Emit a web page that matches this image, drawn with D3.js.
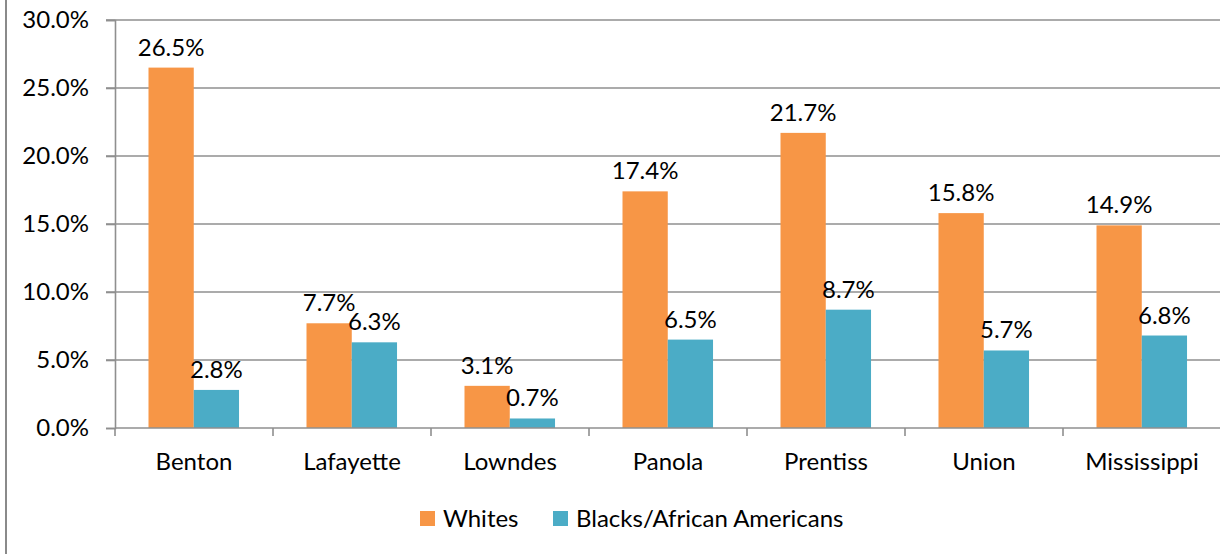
<!DOCTYPE html>
<html><head><meta charset="utf-8">
<script src="https://cdn.jsdelivr.net/npm/d3@7"></script>
<style>body{margin:0;background:#fff}svg{display:block}text{font-family:Lato,"Open Sans",sans-serif;fill:#000}</style>
</head><body><svg id="c" width="1220" height="554"></svg>
<script>
const categories = ["Benton","Lafayette","Lowndes","Panola","Prentiss","Union","Mississippi"];
const whites = [26.5, 7.7, 3.1, 17.4, 21.7, 15.8, 14.9];
const blacks = [2.8, 6.3, 0.7, 6.5, 8.7, 5.7, 6.8];
const seriesNames = ["Whites","Blacks/African Americans"];
const colors = ["#F79646","#4BACC6"];
const yTicks = [0,5,10,15,20,25,30];

(function(){
const svg = d3.select("#c");
const fs = 24;
const pLeft = 115, pRight = 1221, pTop = 20, pBottom = 428;
const y = d3.scaleLinear().domain([0,30]).range([pBottom, pTop]);
const x0 = d3.scaleBand().domain(categories).range([pLeft, pRight]).padding(0);
const bw = x0.bandwidth();
const x1 = d3.scaleBand().domain([0,1]).range([bw*0.212, bw*0.785]).padding(0);

svg.append("line").attr("x1",6).attr("x2",6).attr("y1",0).attr("y2",554).attr("stroke","#8a8a8a").attr("stroke-width",2);

svg.append("g").selectAll("line").data(yTicks.filter(d=>d>0)).join("line")
  .attr("x1",106).attr("x2",1220).attr("y1",d=>y(d)).attr("y2",d=>y(d))
  .attr("stroke","#8f8f8f").attr("stroke-width",1.6);

const yAxis = d3.axisLeft(y).tickValues(yTicks).tickSize(9).tickPadding(17).tickFormat(d=>d.toFixed(1)+"%");
const gy = svg.append("g").attr("transform",`translate(${pLeft},0)`).call(yAxis);
gy.select(".domain").attr("stroke","#8f8f8f").attr("stroke-width",1.6);
gy.selectAll(".tick line").attr("stroke","#8f8f8f").attr("stroke-width",1.6);
gy.selectAll("text").attr("font-size",fs).attr("font-family","Lato").attr("fill","#000").attr("dy","0.3em");

const data = categories.map((c,i)=>({c, v:[whites[i], blacks[i]]}));
const groups = svg.append("g").selectAll("g").data(data).join("g")
  .attr("transform",d=>`translate(${x0(d.c)},0)`);
groups.selectAll("rect").data(d=>d.v.map((v,k)=>({v,k}))).join("rect")
  .attr("x",d=>x1(d.k)).attr("width",x1.bandwidth())
  .attr("y",d=>y(d.v)).attr("height",d=>y(0)-y(d.v))
  .attr("fill",d=>colors[d.k]);
groups.selectAll("text").data(d=>d.v.map((v,k)=>({v,k}))).join("text")
  .attr("x",d=>x1(d.k)+x1.bandwidth()/2).attr("y",d=>y(d.v)-12)
  .attr("text-anchor","middle").attr("font-size",fs)
  .text(d=>d.v.toFixed(1)+"%");

const xAxis = d3.axisBottom(x0).tickSize(0).tickPadding(25);
const gx = svg.append("g").attr("transform",`translate(0,${pBottom})`).call(xAxis);
gx.select(".domain").attr("stroke","#8f8f8f").attr("stroke-width",1.6).attr("d",`M${pLeft},0H1220`);
gx.selectAll("text").attr("font-size",fs).attr("font-family","Lato").attr("fill","#000").attr("dy","0.71em");
svg.append("g").selectAll("line").data(categories.map(c=>x0(c)).concat([pRight])).join("line")
  .attr("x1",d=>d).attr("x2",d=>d).attr("y1",pBottom).attr("y2",pBottom+8)
  .attr("stroke","#8f8f8f").attr("stroke-width",1.6);

const legX = [420, 553];
const lg = svg.append("g").selectAll("g").data(seriesNames).join("g")
  .attr("transform",(d,i)=>`translate(${legX[i]},511)`);
lg.append("rect").attr("width",15).attr("height",15).attr("fill",(d,i)=>colors[i]);
lg.append("text").attr("x",23).attr("y",7.5).attr("dy","0.35em").attr("font-size",fs).text(d=>d);
})();
</script></body></html>
